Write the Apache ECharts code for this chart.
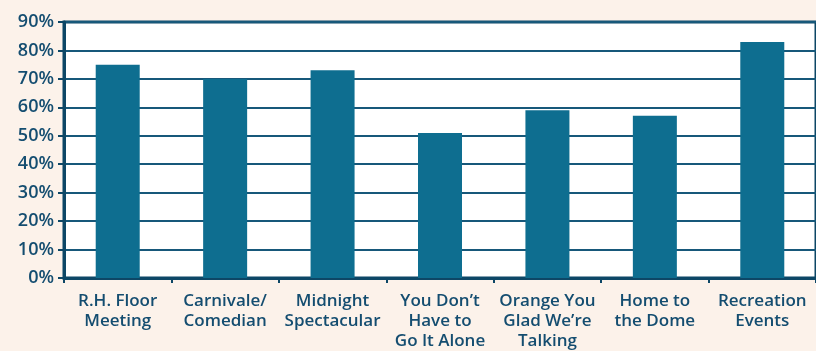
<!DOCTYPE html>
<html>
<head>
<meta charset="utf-8">
<script src="https://cdn.jsdelivr.net/npm/echarts@6/dist/echarts.min.js"></script>
<style>
  html, body { margin: 0; padding: 0; background: #fcf2ea; }
  #chart { width: 816px; height: 351px; }
</style>
</head>
<body>
<div id="chart"></div>
<script>
// Event categories (two/three-line labels)
var categories = [
  'R.H. Floor\nMeeting',
  'Carnivale/\nComedian',
  'Midnight\nSpectacular',
  'You Don\u2019t\nHave to\nGo It Alone',
  'Orange You\nGlad We\u2019re\nTalking',
  'Home to\nthe Dome',
  'Recreation\nEvents'
];
// Percentage per event
var values = [75, 70, 73, 51, 59, 57, 83];
// Value axis range
var yMin = 0, yMax = 90, yStep = 10;

var ink = '#144d70';
var fontFamily = '"Liberation Sans Narrow", "Open Sans", "DejaVu Sans Condensed", sans-serif';

var chart = echarts.init(document.getElementById('chart'), null, { renderer: 'canvas' });
chart.setOption({
  backgroundColor: '#fcf2ea',
  animation: false,
  grid: {
    left: 64, top: 22, bottom: 72, width: 762,
    show: true, backgroundColor: '#ffffff',
    borderColor: '#0d4766', borderWidth: 3
  },
  xAxis: {
    type: 'category',
    data: categories,
    axisLine: { show: true, lineStyle: { color: '#0d4766', width: 3 } },
    axisTick: { show: true, length: 5, lineStyle: { color: '#0d4766', width: 2 } },
    axisLabel: {
      color: ink, fontFamily: fontFamily, fontWeight: 600, fontSize: 17,
      lineHeight: 20, margin: 13, interval: 0
    }
  },
  yAxis: {
    type: 'value',
    min: yMin, max: yMax, interval: yStep,
    axisLine: { show: true, lineStyle: { color: '#0d4766', width: 3 } },
    axisTick: { show: true, length: 6, lineStyle: { color: '#0d4766', width: 2 } },
    splitLine: { show: true, lineStyle: { color: '#17587a', width: 2 } },
    axisLabel: {
      color: ink, fontFamily: fontFamily, fontWeight: 600, fontSize: 18,
      margin: 10, formatter: '{value}%'
    }
  },
  series: [{
    type: 'bar',
    data: values,
    barWidth: 44,
    itemStyle: { color: '#0e6e90' }
  }]
});
</script>
</body>
</html>
